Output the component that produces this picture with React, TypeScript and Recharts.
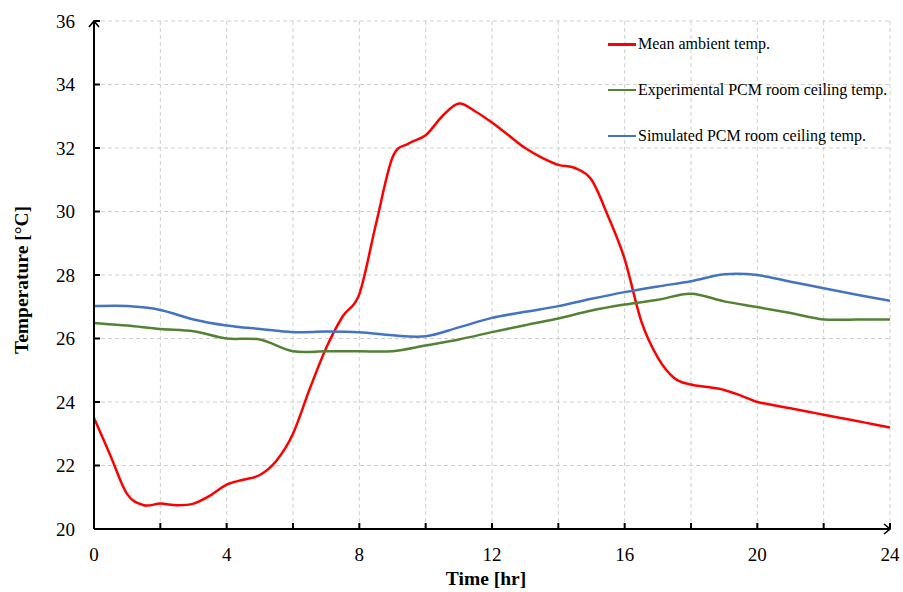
import { LineChart, Line, XAxis, YAxis, CartesianGrid } from 'recharts'

const ambientHours = [
  0, 0.5, 1, 1.5, 2, 2.5, 3, 3.5, 4, 4.5, 5, 5.5, 6, 6.5, 7, 7.5, 8, 8.5, 9, 9.5, 10, 10.5, 11, 11.5, 12,
  12.5, 13, 13.5, 14, 14.5, 15, 15.5, 16, 16.5, 17, 17.5, 18, 18.5, 19, 19.5, 20, 20.5, 21, 21.5, 22, 22.5, 23,
  23.5, 24,
]
const ambientTemps = [
  23.5, 22.3, 21.1, 20.75, 20.8, 20.75, 20.8, 21.05, 21.4, 21.55, 21.7, 22.15, 23.0, 24.4, 25.7, 26.7, 27.4,
  29.6, 31.7, 32.15, 32.4, 33.0, 33.4, 33.15, 32.8, 32.4, 32.0, 31.7, 31.47, 31.37, 31.0, 29.85, 28.5, 26.55,
  25.4, 24.75, 24.55, 24.47, 24.38, 24.2, 24.0, 23.9, 23.8, 23.7, 23.6, 23.5, 23.4, 23.3, 23.2,
]

const hours = [0, 1, 2, 3, 4, 5, 6, 7, 8, 9, 10, 11, 12, 13, 14, 15, 16, 17, 18, 19, 20, 21, 22, 23, 24]
const experimentalTemps = [
  26.49, 26.41, 26.3, 26.23, 26.0, 25.97, 25.6, 25.6, 25.6, 25.6, 25.78, 25.97, 26.2, 26.42, 26.63, 26.88,
  27.07, 27.22, 27.41, 27.17, 26.99, 26.8, 26.6, 26.6, 26.6,
]
const simulatedTemps = [
  27.02, 27.02, 26.9, 26.6, 26.41, 26.3, 26.2, 26.22, 26.2, 26.1, 26.07, 26.35, 26.65, 26.84, 27.02, 27.25,
  27.46, 27.64, 27.8, 28.02, 28.0, 27.79, 27.58, 27.38, 27.19,
]

const timeTicks = [0, 2, 4, 6, 8, 10, 12, 14, 16, 18, 20, 22, 24]
const tempTicks = [20, 22, 24, 26, 28, 30, 32, 34, 36]

const seriesNames = ['Mean ambient temp.', 'Experimental PCM room ceiling temp.', 'Simulated PCM room ceiling temp.']
const seriesColors = ['#ff0000', '#548235', '#4472c4']

const ambient = ambientHours.map((t, i) => ({ t, v: ambientTemps[i] }))
const experimental = hours.map((t, i) => ({ t, v: experimentalTemps[i] }))
const simulated = hours.map((t, i) => ({ t, v: simulatedTemps[i] }))

const font = '"Liberation Serif", "Times New Roman", serif'

// Excel-style smoothed line (Catmull-Rom through every point), used as a d3 curve factory
function smoothCurve(context: any) {
  let pts: [number, number][] = []
  return {
    areaStart() {},
    areaEnd() {},
    lineStart() {
      pts = []
    },
    lineEnd() {
      if (!pts.length) return
      context.moveTo(pts[0][0], pts[0][1])
      const k = 1 / 6
      for (let i = 0; i < pts.length - 1; i++) {
        const p0 = pts[Math.max(i - 1, 0)]
        const p1 = pts[i]
        const p2 = pts[i + 1]
        const p3 = pts[Math.min(i + 2, pts.length - 1)]
        context.bezierCurveTo(
          p1[0] + (p2[0] - p0[0]) * k,
          p1[1] + (p2[1] - p0[1]) * k,
          p2[0] - (p3[0] - p1[0]) * k,
          p2[1] - (p3[1] - p1[1]) * k,
          p2[0],
          p2[1],
        )
      }
    },
    point(x: number, y: number) {
      pts.push([+x, +y])
    },
  }
}

// legend sits inside the plot, top right, like the Excel original
function LegendBox() {
  return (
    <div style={{ position: 'absolute', top: 21.4, left: 608, fontFamily: font, fontSize: 16, color: '#000' }}>
      {seriesNames.map((name, i) => (
        <div key={name} style={{ height: 45.8, display: 'flex', alignItems: 'center', whiteSpace: 'nowrap' }}>
          <span style={{ display: 'inline-block', width: 28, height: 2.5, background: seriesColors[i], marginRight: 2 }} />
          <span>{name}</span>
        </div>
      ))}
    </div>
  )
}

export default function App() {
  return (
    <div style={{ position: 'relative', width: 903, height: 592, background: '#fff' }}>
      <style>{'body{margin:0;overflow:hidden}'}</style>
      <LineChart width={903} height={592} margin={{ top: 21, right: 13, left: 0, bottom: 0 }}>
        <defs>
          <marker
            id="axisArrow"
            viewBox="-10 -10 20 20"
            markerWidth={20}
            markerHeight={20}
            markerUnits="userSpaceOnUse"
            refX={0}
            refY={0}
            orient="auto-start-reverse"
          >
            <path d="M-6,-5 L0,0 L-6,5" fill="none" stroke="#000" strokeWidth={1.6} />
          </marker>
        </defs>
        <CartesianGrid stroke="#cfcfcf" strokeDasharray="4 3" />
        <XAxis
          dataKey="t"
          type="number"
          domain={[0, 24]}
          ticks={timeTicks}
          allowDataOverflow
          height={63}
          tickFormatter={(v) => (v % 4 === 0 ? String(v) : '')}
          tick={{ fill: '#000', fontSize: 19, fontFamily: font }}
          tickSize={-6}
          tickMargin={25}
          tickLine={{ stroke: '#000', strokeWidth: 2 }}
          axisLine={{ stroke: '#000', strokeWidth: 2, markerEnd: 'url(#axisArrow)' }}
          label={{
            content: ({ viewBox }: any) => (
              <text
                x={viewBox.x + viewBox.width / 2 - 6}
                y={585}
                textAnchor="middle"
                fontFamily={font}
                fontSize={19.5}
                fontWeight="bold"
                fill="#000"
              >
                Time [hr]
              </text>
            ),
          }}
        />
        <YAxis
          type="number"
          domain={[20, 36]}
          ticks={tempTicks}
          allowDataOverflow
          width={94}
          tick={{ fill: '#000', fontSize: 19, fontFamily: font }}
          tickSize={-6}
          tickMargin={25}
          tickLine={{ stroke: '#000', strokeWidth: 2 }}
          axisLine={{ stroke: '#000', strokeWidth: 2, markerStart: 'url(#axisArrow)' }}
          label={{
            content: () => (
              <text
                transform="translate(28, 280) rotate(-90)"
                textAnchor="middle"
                fontFamily={font}
                fontSize={19.5}
                fontWeight="bold"
                fill="#000"
              >
                Temperature [°C]
              </text>
            ),
          }}
        />
        <Line
          data={ambient}
          dataKey="v"
          name={seriesNames[0]}
          type={smoothCurve as any}
          stroke={seriesColors[0]}
          strokeWidth={2.5}
          dot={false}
          isAnimationActive={false}
        />
        <Line
          data={experimental}
          dataKey="v"
          name={seriesNames[1]}
          type={smoothCurve as any}
          stroke={seriesColors[1]}
          strokeWidth={2.5}
          dot={false}
          isAnimationActive={false}
        />
        <Line
          data={simulated}
          dataKey="v"
          name={seriesNames[2]}
          type={smoothCurve as any}
          stroke={seriesColors[2]}
          strokeWidth={2.5}
          dot={false}
          isAnimationActive={false}
        />
      </LineChart>
      <LegendBox />
    </div>
  )
}
